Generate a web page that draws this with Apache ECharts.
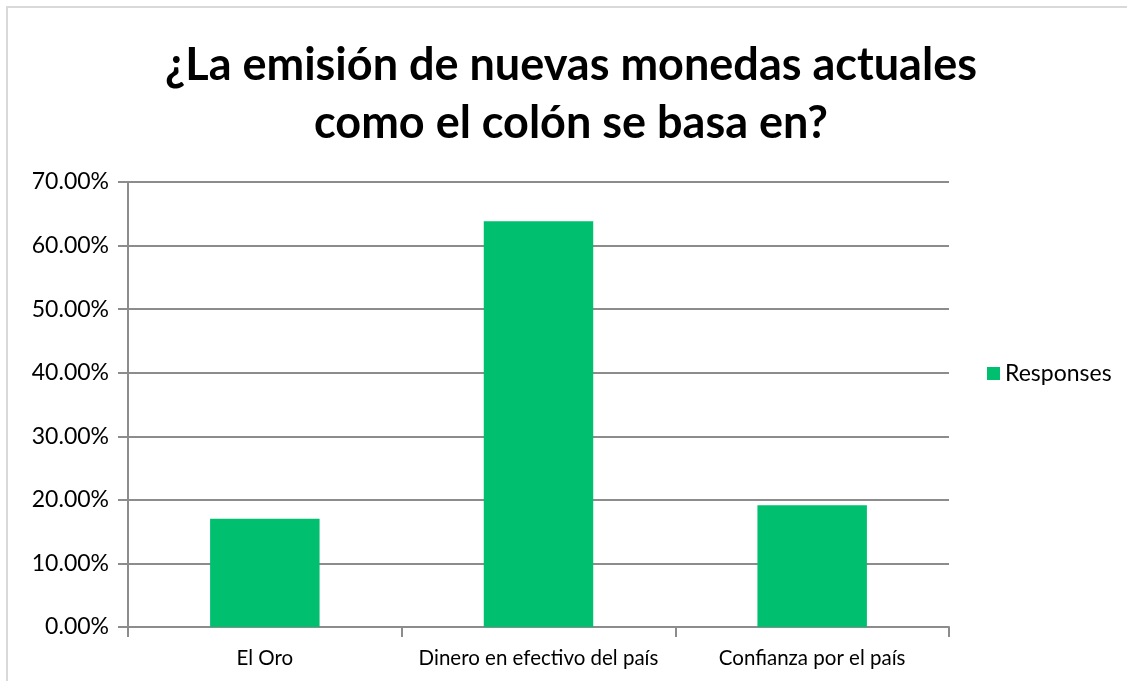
<!DOCTYPE html>
<html>
<head>
<meta charset="utf-8">
<style>
html,body{margin:0;padding:0;background:#fff;}
#chart{width:1127px;height:681px;}
</style>
<script src="https://cdn.jsdelivr.net/npm/echarts@6/dist/echarts.min.js"></script>
</head>
<body>
<div id="chart"></div>
<script>
const titleText = "¿La emisión de nuevas monedas actuales\ncomo el colón se basa en?";
const categories = ["El Oro", "Dinero en efectivo del país", "Confianza por el país"];
const seriesName = "Responses";
const values = [0.1702, 0.6383, 0.1915];
const yTicks = [0, 0.1, 0.2, 0.3, 0.4, 0.5, 0.6, 0.7];

const FONT = "Lato";
const chart = echarts.init(document.getElementById('chart'), null, {renderer: 'canvas'});
chart.setOption({
  animation: false,
  backgroundColor: '#ffffff',
  graphic: [{
    type: 'rect',
    shape: {x: 7, y: 7, width: 1300, height: 1000},
    style: {fill: 'none', stroke: '#d9d9d9', lineWidth: 2},
    silent: true
  }],
  title: {
    text: titleText,
    left: 566,
    top: 31,
    textAlign: 'center',
    textStyle: {fontFamily: FONT, fontWeight: 'bold', fontSize: 45, lineHeight: 58, color: '#000'}
  },
  legend: {
    data: [seriesName],
    left: 982,
    top: 357,
    itemWidth: 13,
    itemHeight: 13,
    itemGap: 10,
    icon: 'rect',
    textStyle: {fontFamily: FONT, fontSize: 23, color: '#000'}
  },
  grid: {left: 128, right: 178, top: 182, bottom: 54, containLabel: false},
  xAxis: {
    type: 'category',
    data: categories,
    axisLine: {show: true, lineStyle: {color: '#8c8c8c', width: 2}},
    axisTick: {show: true, length: 10, alignWithLabel: false, lineStyle: {color: '#8c8c8c', width: 2}},
    axisLabel: {fontFamily: FONT, fontSize: 20.5, color: '#000', margin: 21, interval: 0}
  },
  yAxis: {
    type: 'value',
    min: 0, max: 0.7, interval: 0.1,
    axisLine: {show: true, lineStyle: {color: '#8c8c8c', width: 2}},
    axisTick: {show: true, length: 10, inside: false, lineStyle: {color: '#8c8c8c', width: 2}},
    splitLine: {show: true, lineStyle: {color: '#8c8c8c', width: 2}},
    axisLabel: {
      fontFamily: FONT, fontSize: 23, color: '#000', margin: 19,
      formatter: v => (v * 100).toFixed(2) + '%'
    }
  },
  series: [{
    name: seriesName,
    type: 'bar',
    data: values,
    barWidth: '40%',
    itemStyle: {color: '#00bf6f'}
  }]
});
</script>
</body>
</html>
